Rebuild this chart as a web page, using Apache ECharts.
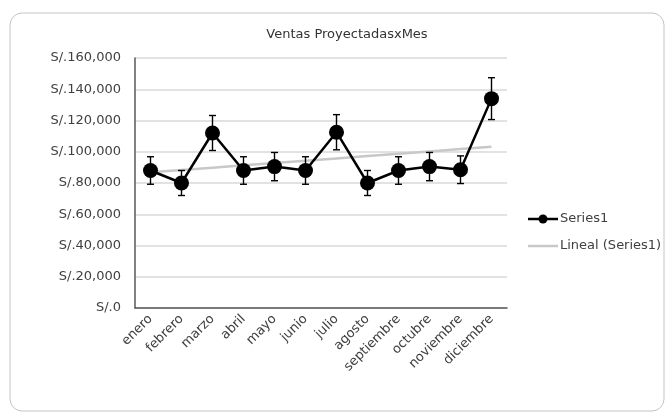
<!DOCTYPE html>
<html>
<head>
<meta charset="utf-8">
<script src="https://cdn.jsdelivr.net/npm/echarts@6/dist/echarts.min.js"></script>
<style>
html,body{margin:0;padding:0;background:#fff;}
#chart{width:671px;height:416px;}
</style>
</head>
<body>
<div id="chart"></div>
<script>
var months = ['enero','febrero','marzo','abril','mayo','junio','julio','agosto','septiembre','octubre','noviembre','diciembre'];
var ventas = [88000, 80000, 112000, 88000, 90500, 88000, 112500, 80000, 88000, 90500, 88500, 134000];
var errores = [8800, 8000, 11200, 8800, 9050, 8800, 11250, 8000, 8800, 9050, 8850, 13400];
var yTicks = [0, 20000, 40000, 60000, 80000, 100000, 120000, 140000, 160000];
var legendNames = ['Series1', 'Lineal (Series1)'];

// Linear trendline (least squares) over the series values
var n = ventas.length, sx = 0, sy = 0, sxy = 0, sxx = 0;
for (var i = 0; i < n; i++) { var x = i + 1; sx += x; sy += ventas[i]; sxy += x * ventas[i]; sxx += x * x; }
var slope = (n * sxy - sx * sy) / (n * sxx - sx * sx);
var icpt = (sy - slope * sx) / n;
var tendencia = ventas.map(function (v, i) { return icpt + slope * (i + 1); });

var errData = ventas.map(function (v, i) { return [i, v - errores[i], v + errores[i]]; });

function fmt(v) {
  return 'S/.' + String(v).replace(/\B(?=(\d{3})+(?!\d))/g, ',');
}

var font = 'DejaVu Sans';
var txtColor = '#404040';
var chart = echarts.init(document.getElementById('chart'), null, {renderer: 'canvas'});
chart.setOption({
  animation: false,
  backgroundColor: '#fff',
  textStyle: {fontFamily: font},
  graphic: [
    {type: 'rect', shape: {x: 10, y: 13, width: 654, height: 398, r: 12},
     style: {fill: 'none', stroke: '#C4C4C4', lineWidth: 1}, z: -10},
    // legend: Series1
    {type: 'line', shape: {x1: 528, y1: 219, x2: 558, y2: 219}, style: {stroke: '#000', lineWidth: 2.5}},
    {type: 'circle', shape: {cx: 543, cy: 219, r: 4.5}, style: {fill: '#000'}},
    {type: 'text', x: 560, y: 219, style: {text: legendNames[0], fill: txtColor, font: '13px "DejaVu Sans"', textVerticalAlign: 'middle'}},
    // legend: trendline
    {type: 'line', shape: {x1: 528, y1: 246, x2: 558, y2: 246}, style: {stroke: '#C8C8C8', lineWidth: 2.5}},
    {type: 'text', x: 560, y: 246, style: {text: legendNames[1], fill: txtColor, font: '13px "DejaVu Sans"', textVerticalAlign: 'middle'}}
  ],
  title: {
    text: 'Ventas ProyectadasxMes', left: 342, top: 23, textAlign: 'center',
    textStyle: {fontFamily: font, fontSize: 13, fontWeight: 'normal', color: '#333'}
  },
  grid: {left: 135, right: 164, top: 58, bottom: 108},
  xAxis: {
    type: 'category', data: months, boundaryGap: true,
    axisLine: {lineStyle: {color: '#595959', width: 1.5}},
    axisTick: {show: false},
    axisLabel: {rotate: 45, interval: 0, margin: 9, fontFamily: font, fontSize: 13, color: txtColor}
  },
  yAxis: {
    type: 'value', min: yTicks[0], max: yTicks[yTicks.length - 1], interval: 20000,
    axisLine: {show: true, lineStyle: {color: '#595959', width: 1.5}},
    axisTick: {show: false},
    splitLine: {lineStyle: {color: '#D9D9D9', width: 1.5}},
    axisLabel: {formatter: fmt, margin: 14, fontFamily: font, fontSize: 13, color: txtColor}
  },
  series: [
    {
      name: legendNames[1], type: 'line', data: tendencia, symbol: 'none',
      lineStyle: {color: '#C8C8C8', width: 2.5}, z: 2
    },
    {
      name: legendNames[0], type: 'line', data: ventas, symbol: 'circle', symbolSize: 15,
      lineStyle: {color: '#000', width: 2.5}, itemStyle: {color: '#000'}, z: 4
    },
    {
      name: 'err', type: 'custom', data: errData, z: 3,
      renderItem: function (params, api) {
        var x = api.value(0);
        var lo = api.coord([x, api.value(1)]);
        var hi = api.coord([x, api.value(2)]);
        var w = 3.5;
        var st = {stroke: '#000', lineWidth: 1.4};
        return {type: 'group', children: [
          {type: 'line', shape: {x1: lo[0], y1: lo[1], x2: hi[0], y2: hi[1]}, style: st},
          {type: 'line', shape: {x1: lo[0]-w, y1: lo[1], x2: lo[0]+w, y2: lo[1]}, style: st},
          {type: 'line', shape: {x1: hi[0]-w, y1: hi[1], x2: hi[0]+w, y2: hi[1]}, style: st}
        ]};
      }
    }
  ]
});
</script>
</body>
</html>
